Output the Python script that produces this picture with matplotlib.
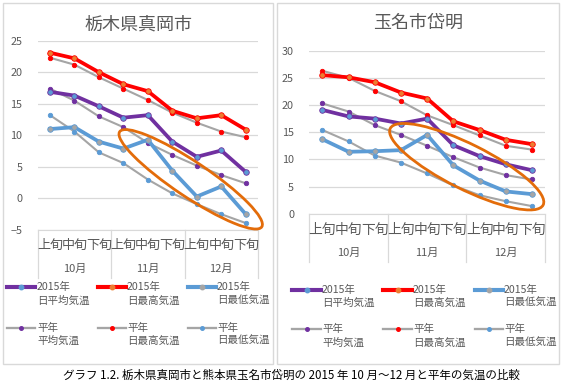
import matplotlib.pyplot as plt
from matplotlib.lines import Line2D
from matplotlib.patches import Ellipse, Rectangle

plt.rcParams['font.family'] = ['Noto Sans CJK JP', 'DejaVu Sans']

W, H = 564, 384

junnames = ["上旬", "中旬", "下旬"] * 3
months = ["10月", "11月", "12月"]

# 栃木県真岡市
moka_avg_2015 = [16.9, 16.3, 14.6, 12.8, 13.2, 9.0, 6.6, 7.6, 4.2]
moka_max_2015 = [23.1, 22.2, 20.0, 18.1, 17.0, 13.9, 12.7, 13.2, 10.9]
moka_min_2015 = [11.0, 11.3, 9.0, 7.9, 9.3, 4.4, 0.3, 1.9, -2.5]
moka_avg_norm = [17.4, 15.5, 13.0, 11.3, 8.8, 6.9, 5.2, 3.7, 2.4]
moka_max_norm = [22.3, 21.2, 19.2, 17.4, 15.6, 13.6, 12.0, 10.6, 9.7]
moka_min_norm = [13.2, 10.6, 7.3, 5.6, 3.0, 0.8, -0.9, -2.5, -3.9]

# 玉名市岱明
taimei_avg_2015 = [19.1, 17.9, 17.5, 16.6, 17.5, 12.6, 10.6, 9.1, 8.0]
taimei_max_2015 = [25.5, 25.1, 24.2, 22.3, 21.2, 17.0, 15.4, 13.6, 12.8]
taimei_min_2015 = [13.7, 11.4, 11.5, 11.7, 14.5, 8.9, 6.1, 4.1, 3.6]
taimei_avg_norm = [20.3, 18.8, 16.3, 14.5, 12.5, 10.4, 8.5, 7.1, 6.3]
taimei_max_norm = [26.3, 25.0, 22.6, 20.7, 18.1, 16.3, 14.4, 12.5, 11.8]
taimei_min_norm = [15.4, 13.3, 10.7, 9.4, 7.4, 5.2, 3.4, 2.3, 1.4]

PURPLE = "#7030A0"
RED = "#FF0000"
BLUE = "#5B9BD5"
GRAY = "#A5A5A5"
ORANGE = "#ED7D31"
TXT = "#595959"
GRID = "#D9D9D9"

# (line colour, marker colour, line width, marker size)
styles = [
    (PURPLE, BLUE, 2.7, 4.0),
    (RED, ORANGE, 2.7, 4.0),
    (BLUE, GRAY, 2.7, 4.0),
    (GRAY, PURPLE, 1.5, 3.2),
    (GRAY, RED, 1.5, 3.2),
    (GRAY, BLUE, 1.5, 3.2),
]
labels = ["2015年\n日平均気温", "2015年\n日最高気温", "2015年\n日最低気温",
          "平年\n平均気温", "平年\n日最高気温", "平年\n日最低気温"]

fig = plt.figure(figsize=(W / 100, H / 100), dpi=100)


def px_axes(x0, x1, ytop, ybot):
    return fig.add_axes([x0 / W, 1 - ybot / H, (x1 - x0) / W, (ybot - ytop) / H])


def draw_panel(x0, x1, ytop, ybot, series, ylim, title, title_xy, lab_y, mon_y, sep_y, labsize):
    ax = px_axes(x0, x1, ytop, ybot)
    xs = list(range(9))
    order = [3, 4, 5, 0, 1, 2]
    for i in order:
        lc, mc, lw, ms = styles[i]
        ax.plot(xs, series[i], color=lc, lw=lw, marker="o", ms=ms,
                mfc=mc, mec=mc if i >= 3 else lc, mew=0.6, zorder=3 if i < 3 else 2,
                solid_joinstyle="round")
    ax.set_xlim(-0.5, 8.5)
    ax.set_ylim(*ylim)
    ax.set_yticks(range(ylim[0], ylim[1] + 1, 5))
    ax.yaxis.grid(True, color=GRID, lw=0.9)
    ax.set_axisbelow(True)
    for s in ["top", "right", "left"]:
        ax.spines[s].set_visible(False)
    ax.spines["bottom"].set_color(GRID)
    ax.tick_params(axis="y", length=0, pad=11, labelsize=7.8, labelcolor=TXT)
    ax.set_xticks([])
    h = ybot - ytop
    for i, lab in enumerate(junnames):
        ax.text(i, -(lab_y - ybot) / h, lab, transform=ax.get_xaxis_transform(),
                ha="center", va="center", fontsize=labsize, color=TXT)
    for j, m in enumerate(months):
        ax.text(3 * j + 1, -(mon_y - ybot) / h, m, transform=ax.get_xaxis_transform(),
                ha="center", va="center", fontsize=8, color=TXT)
    for b in [-0.5, 2.5, 5.5, 8.5]:
        ax.add_line(Line2D([b, b], [0, -(sep_y - ybot) / h], transform=ax.get_xaxis_transform(),
                           color=GRID, lw=0.9, clip_on=False))
    fig.text(title_xy[0] / W, 1 - title_xy[1] / H, title, ha="center", va="center",
             fontsize=13, color=TXT)
    return ax


def draw_legend(cols_x, rows_y):
    for k in range(6):
        r, c = divmod(k, 3)
        lx0, lx1, tx = cols_x[c]
        y = 1 - rows_y[r][0] / H
        lc, mc, lw, ms = styles[k]
        fig.add_artist(Line2D([lx0 / W, lx1 / W], [y, y], color=lc, lw=lw * 1.1))
        fig.add_artist(Line2D([(lx0 + lx1) / 2 / W], [y], marker="o", ms=ms * 0.8,
                              mfc=mc, mec=mc, color=lc))
        l1, l2 = labels[k].split("\n")
        fig.text(tx / W, y, l1, ha="left", va="center", fontsize=7.6, color=TXT)
        fig.text(tx / W, 1 - rows_y[r][1] / H, l2, ha="left", va="center",
                 fontsize=7.6, color=TXT)


# panel frames
fig.add_artist(Rectangle((3 / W, 1 - 364 / H), 270 / W, 361 / H, transform=fig.transFigure,
                         fill=False, ec=GRID, lw=1.0))
fig.add_artist(Rectangle((277 / W, 1 - 364 / H), 282 / W, 361 / H, transform=fig.transFigure,
                         fill=False, ec=GRID, lw=1.0))

moka = [moka_avg_2015, moka_max_2015, moka_min_2015, moka_avg_norm, moka_max_norm, moka_min_norm]
taimei = [taimei_avg_2015, taimei_max_2015, taimei_min_2015,
          taimei_avg_norm, taimei_max_norm, taimei_min_norm]

draw_panel(37.7, 258, 40.7, 230, moka, (-5, 25), "栃木県真岡市", (138, 25), 245, 269, 278, 9.4)
draw_panel(309.3, 545, 50.7, 213.7, taimei, (0, 30), "玉名市岱明", (418, 23), 230, 253, 262, 9.9)

draw_legend([(7, 35, 37), (98, 126, 127), (188, 216, 217)], [(287, 301), (328, 341)])
draw_legend([(292, 321, 322), (383, 412, 413), (475, 503, 504)], [(290, 303), (329, 343)])

# highlight ellipses
for cx, cy, w, h, ang in [(190.7, 179.3, 171, 35, -33.8), (466.7, 166.7, 171, 45, -26.6)]:
    fig.add_artist(Ellipse((cx / 100, (H - cy) / 100), w / 100, h / 100, angle=ang,
                           transform=fig.dpi_scale_trans, fill=False, ec="#E36C0A", lw=2.0,
                           zorder=10))

fig.text(291 / W, 1 - 375 / H,
         "グラフ 1.2. 栃木県真岡市と熊本県玉名市岱明の 2015 年 10 月～12 月と平年の気温の比較",
         ha="center", va="center", fontsize=8.3, color="black")

fig.savefig("out.png", dpi=100)
